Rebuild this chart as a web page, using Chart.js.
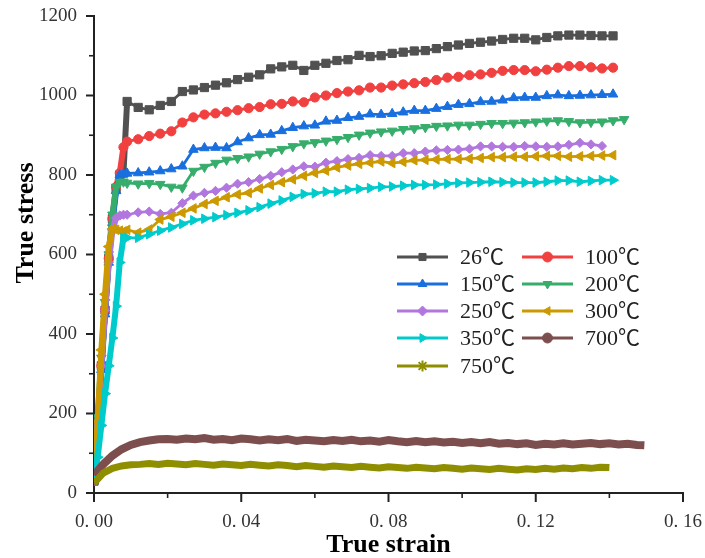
<!DOCTYPE html>
<html>
<head>
<meta charset="utf-8">
<script src="https://cdn.jsdelivr.net/npm/chart.js@4.4.1/dist/chart.umd.min.js"></script>
<style>
  html, body { margin: 0; padding: 0; background: #fff; }
  #wrap { width: 705px; height: 558px; position: relative; }
</style>
</head>
<body>
<div id="wrap"><canvas id="curves"></canvas></div>
<script>
// Test temperatures, one curve each
const temps = ['26℃', '100℃', '150℃', '200℃', '250℃', '300℃', '350℃', '700℃', '750℃'];
const colors = ['#515151', '#F14040', '#1A6FDF', '#37AD6B', '#B177DE', '#CC9900', '#00CBCC', '#7D4E4E', '#8E8E00'];
const markers = ['rect', 'circle', 'triangle', 'triangle', 'rectRot', 'triangle', 'triangle', 'circle', 'star'];
const markerTurn = [0, 0, 0, 180, 0, 270, 90, 0, 0];

// Axis ticks
const strainTicks = [0, 0.04, 0.08, 0.12, 0.16];
const strainMinor = [0.02, 0.06, 0.10, 0.14];
const stressTicks = [0, 200, 400, 600, 800, 1000, 1200];
const stressMinor = [100, 300, 500, 700, 900, 1100];

// Strain points for the low temperature curves (26 - 350℃)
const strain = [0, 0.001, 0.002, 0.003, 0.004, 0.005, 0.006, 0.007, 0.008, 0.009,
  0.012, 0.015, 0.018, 0.021, 0.024, 0.027, 0.030, 0.033, 0.036, 0.039,
  0.042, 0.045, 0.048, 0.051, 0.054, 0.057, 0.060, 0.063, 0.066, 0.069,
  0.072, 0.075, 0.078, 0.081, 0.084, 0.087, 0.090, 0.093, 0.096, 0.099,
  0.102, 0.105, 0.108, 0.111, 0.114, 0.117, 0.120, 0.123, 0.126, 0.129,
  0.132, 0.135, 0.138, 0.141, 0.144];

const stress26 = [30, 170, 320, 460, 590, 690, 765, 800, 805, 985,
  970, 964, 975, 985, 1010, 1014, 1020, 1026, 1032, 1040,
  1046, 1052, 1067, 1072, 1076, 1063, 1076, 1081, 1088, 1090,
  1101, 1098, 1100, 1106, 1109, 1112, 1113, 1118, 1123, 1127,
  1131, 1134, 1137, 1141, 1144, 1144, 1140, 1146, 1150, 1152,
  1152, 1151, 1150, 1150, null];
const stress100 = [30, 170, 320, 460, 590, 690, 770, 805, 870, 884,
  890, 898, 904, 910, 932, 945, 952, 955, 959, 963,
  968, 971, 978, 979, 985, 983, 995, 1000, 1006, 1010,
  1013, 1020, 1020, 1025, 1028, 1031, 1034, 1039, 1045, 1047,
  1051, 1053, 1057, 1062, 1064, 1064, 1061, 1065, 1070, 1074,
  1074, 1071, 1068, 1070, null];
const stress150 = [30, 170, 310, 450, 580, 680, 760, 800, 802, 804,
  805, 807, 810, 815, 822, 864, 868, 869, 868, 883,
  893, 901, 902, 911, 919, 923, 925, 935, 937, 944,
  947, 953, 952, 954, 958, 962, 962, 967, 972, 977,
  979, 984, 985, 988, 994, 995, 995, 999, 1001, 999,
  1000, 1001, 1002, 1003, null];
const stress200 = [40, 190, 340, 480, 600, 700, 770, 782, 783, 780,
  778, 779, 777, 770, 768, 810, 820, 830, 838, 842,
  846, 853, 859, 865, 872, 879, 882, 886, 890, 895,
  901, 906, 909, 911, 915, 917, 920, 923, 924, 926,
  926, 928, 930, 930, 931, 932, 934, 936, 937, 935,
  932, 933, 934, 937, 940];
const stress250 = [40, 180, 320, 460, 580, 660, 692, 698, 700, 700,
  706, 708, 702, 705, 729, 748, 755, 760, 768, 778,
  782, 790, 798, 807, 814, 822, 821, 831, 835, 840,
  843, 850, 848, 848, 855, 855, 859, 862, 863, 864,
  866, 872, 872, 871, 871, 873, 872, 871, 872, 876,
  881, 877, 873, null, null];
const stress300 = [40, 180, 360, 500, 620, 664, 662, 660, 658, 662,
  655, 663, 688, 695, 705, 716, 727, 735, 744, 751,
  755, 766, 775, 782, 789, 798, 805, 811, 819, 824,
  828, 831, 834, 830, 833, 837, 838, 839, 840, 840,
  841, 843, 845, 845, 846, 846, 847, 848, 848, 846,
  847, 848, 849, 850, null];
const stress350 = [40, 90, 170, 250, 320, 390, 470, 580, 642, 642,
  642, 651, 660, 668, 677, 686, 690, 694, 699, 705,
  711, 719, 728, 736, 745, 752, 754, 758, 758, 763,
  765, 767, 770, 771, 773, 775, 775, 776, 778, 780,
  781, 782, 783, 782, 781, 781, 781, 783, 786, 786,
  783, 785, 787, 787, null];

// Strain points for the high temperature curves (700, 750℃)
const strainFine = [0, 0.0025, 0.005, 0.0075, 0.01, 0.0125, 0.015, 0.0175, 0.02, 0.0225,
  0.025, 0.0275, 0.03, 0.0325, 0.035, 0.0375, 0.04, 0.0425, 0.045, 0.0475,
  0.05, 0.0525, 0.055, 0.0575, 0.06, 0.0625, 0.065, 0.0675, 0.07, 0.0725,
  0.075, 0.0775, 0.08, 0.0825, 0.085, 0.0875, 0.09, 0.0925, 0.095, 0.0975,
  0.1, 0.1025, 0.105, 0.1075, 0.11, 0.1125, 0.115, 0.1175, 0.12, 0.1225,
  0.125, 0.1275, 0.13, 0.1325, 0.135, 0.1375, 0.14, 0.1425, 0.145, 0.1475,
  0.1495];

const stress700 = [45, 72, 94, 110, 121, 128, 132, 135, 136, 134,
  137, 135, 138, 134, 136, 133, 137, 135, 132, 135,
  133, 136, 131, 134, 132, 130, 133, 131, 134, 130,
  132, 129, 133, 130, 128, 131, 128, 130, 127, 129,
  126, 128, 125, 128, 124, 126, 123, 125, 121, 124,
  122, 125, 122, 124, 126, 123, 125, 122, 124, 121,
  120];
const stress750 = [25, 50, 62, 68, 71, 72, 74, 72, 75, 73,
  71, 74, 72, 70, 73, 71, 69, 72, 70, 68,
  71, 69, 66, 69, 67, 65, 68, 66, 64, 67,
  65, 63, 66, 64, 62, 65, 63, 61, 64, 62,
  60, 63, 61, 59, 62, 60, 58, 61, 59, 62,
  60, 63, 61, 64, 62, 65, 64, null, null, null,
  null];

const stressSeries = [stress26, stress100, stress150, stress200, stress250, stress300, stress350, stress700, stress750];
const strainSeries = [strain, strain, strain, strain, strain, strain, strain, strainFine, strainFine];

function toPoints(xs, ys) {
  const pts = [];
  ys.forEach((y, i) => {
    if (y !== null) pts.push({ x: xs[i], y: y });
  });
  return pts;
}

const serif = "'Liberation Serif', 'Noto Sans CJK SC', 'DejaVu Serif', serif";

const datasets = temps.map((t, i) => {
  const dense = i >= 7; // 700 and 750 are drawn as thick noisy bands
  return {
    label: t,
    data: toPoints(strainSeries[i], stressSeries[i]),
    showLine: true,
    borderColor: colors[i],
    backgroundColor: colors[i],
    borderWidth: dense ? (i === 7 ? 8 : 7) : 2.8,
    // elastic rise: the recorded points are so close they merge into a band
    segment: dense ? undefined : {
      borderWidth: c => (c.p0.parsed.x < 0.0085 ? 6 : undefined)
    },
    pointStyle: markers[i],
    pointRotation: markerTurn[i],
    pointRadius: dense ? 0 : (markers[i] === 'rect' ? 5.8 : markers[i] === 'triangle' ? 5.5 : 4.6),
    pointBorderWidth: 1,
    pointBorderColor: colors[i],
    pointBackgroundColor: colors[i],
    tension: 0,
    order: 9 - i
  };
});

// Tick marks, axis titles and a two-column legend with line + marker
const decorations = {
  id: 'decorations',
  afterDraw(chart) {
    const ctx = chart.ctx;
    const xs = chart.scales.x;
    const ys = chart.scales.y;
    const area = chart.chartArea;
    ctx.save();
    ctx.strokeStyle = '#222';
    ctx.lineCap = 'butt';

    stressTicks.concat(stressMinor).forEach(v => {
      const major = stressTicks.includes(v);
      const py = ys.getPixelForValue(v);
      ctx.lineWidth = major ? 2 : 1.6;
      ctx.beginPath();
      ctx.moveTo(area.left - (major ? 8 : 5), py);
      ctx.lineTo(area.left, py);
      ctx.stroke();
    });
    strainTicks.concat(strainMinor).forEach(v => {
      const major = strainTicks.includes(v);
      const px = xs.getPixelForValue(v);
      ctx.lineWidth = major ? 2 : 1.6;
      ctx.beginPath();
      ctx.moveTo(px, area.bottom);
      ctx.lineTo(px, area.bottom + (major ? 9 : 5));
      ctx.stroke();
    });

    // axis titles
    ctx.fillStyle = '#000';
    ctx.font = 'bold 26px ' + serif;
    ctx.textAlign = 'center';
    ctx.textBaseline = 'middle';
    ctx.fillText('True strain', (area.left + area.right) / 2, 545);
    ctx.save();
    ctx.translate(26, 223);
    ctx.rotate(-Math.PI / 2);
    ctx.fillText('True stress', 0, 0);
    ctx.restore();

    // legend
    const colX = [397, 522];
    const rowY = [257, 284, 311, 338, 366];
    ctx.font = '22px ' + serif;
    ctx.textAlign = 'left';
    chart.data.datasets.forEach((ds, i) => {
      const x0 = colX[i % 2];
      const y0 = rowY[Math.floor(i / 2)];
      ctx.strokeStyle = ds.borderColor;
      ctx.fillStyle = ds.borderColor;
      ctx.lineWidth = 3;
      ctx.beginPath();
      ctx.moveTo(x0, y0);
      ctx.lineTo(x0 + 51, y0);
      ctx.stroke();
      ctx.lineWidth = ds.pointStyle === 'star' ? 2 : 1;
      Chart.helpers.drawPoint(ctx, {
        pointStyle: ds.pointStyle,
        rotation: ds.pointRotation,
        radius: ds.pointStyle === 'star' ? 5.5 : 5,
        borderWidth: ctx.lineWidth
      }, x0 + 25.5, y0);
      ctx.fillStyle = '#222';
      ctx.fillText(ds.label, x0 + 63, y0 + 1);
    });
    ctx.restore();
  }
};

new Chart(document.getElementById('curves').getContext('2d'), {
  type: 'scatter',
  data: { datasets: datasets },
  plugins: [decorations],
  options: {
    responsive: true,
    maintainAspectRatio: false,
    animation: false,
    events: [],
    layout: { padding: { top: 16, right: 22, left: 0, bottom: 0 } },
    plugins: {
      legend: { display: false },
      tooltip: { enabled: false }
    },
    scales: {
      x: {
        type: 'linear',
        min: 0,
        max: 0.16,
        afterBuildTicks: scale => { scale.ticks = strainTicks.map(v => ({ value: v })); },
        afterFit: scale => {
          scale.height = 65;
          scale.paddingLeft = 0;
          scale.paddingRight = 0;
        },
        grid: { display: false, drawTicks: false },
        border: { display: true, color: '#222', width: 2 },
        ticks: {
          padding: 18,
          color: '#333',
          font: { family: serif, size: 19 },
          callback: v => v.toFixed(2).replace('.', '. ')
        }
      },
      y: {
        type: 'linear',
        min: 0,
        max: 1200,
        afterBuildTicks: scale => { scale.ticks = stressTicks.map(v => ({ value: v })); },
        afterFit: scale => {
          scale.width = 94;
          scale.paddingTop = 0;
          scale.paddingBottom = 0;
        },
        grid: { display: false, drawTicks: false },
        border: { display: true, color: '#222', width: 2 },
        ticks: {
          padding: 17,
          color: '#333',
          font: { family: serif, size: 19 },
          callback: v => String(v)
        }
      }
    }
  }
});
</script>
</body>
</html>
